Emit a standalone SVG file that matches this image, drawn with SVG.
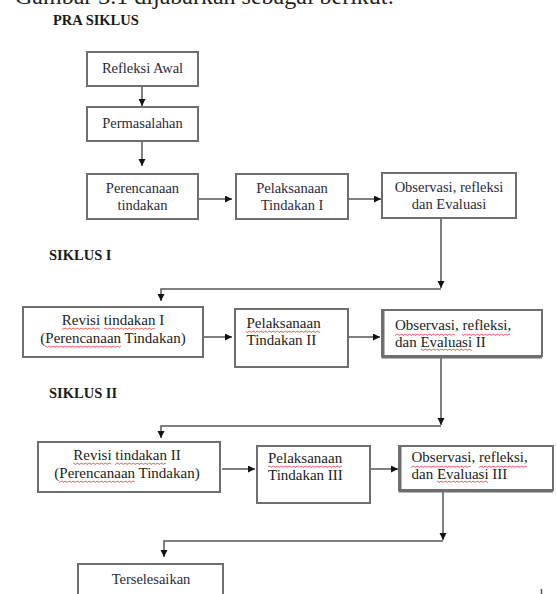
<svg xmlns="http://www.w3.org/2000/svg" width="557" height="594" viewBox="0 0 557 594">
<style>
.box{fill:#fff;stroke:#6e6e6e;stroke-width:2}
.t{font-family:"Liberation Serif","Times New Roman",serif;font-size:15px;fill:#222}
.t1{font-family:"Liberation Serif","Times New Roman",serif;font-size:14.5px;fill:#2a2a3a}
.h{font-family:"Liberation Serif","Times New Roman",serif;font-size:14.5px;font-weight:bold;fill:#1a1a1a}
.c{fill:none;stroke:#555;stroke-width:1.5}
.w{fill:url(#wave)}
</style>
<defs>
<marker id="ah" markerUnits="userSpaceOnUse" markerWidth="8" markerHeight="8" refX="7" refY="3.5" orient="auto">
<path d="M0 0 L7 3.5 L0 7 Z" fill="#111"/>
</marker>
<pattern id="wave" patternUnits="userSpaceOnUse" width="4" height="3">
<path d="M0 2.3 Q1 0.3 2 1.4 T4 2.3" fill="none" stroke="#e03a3a" stroke-width="0.8"/>
</pattern>
</defs>

<text x="15" y="4" font-family="Liberation Serif, serif" font-size="24" fill="#222">Gambar 3.1 dijabarkan sebagai berikut:</text>
<text class="h" x="53" y="25">PRA SIKLUS</text>
<text class="h" x="49" y="260">SIKLUS I</text>
<text class="h" x="49" y="398">SIKLUS II</text>

<g id="connectors">
<path class="c" d="M142 86 V106" marker-end="url(#ah)"/>
<path class="c" d="M142 141 V166" marker-end="url(#ah)"/>
<path class="c" d="M198 199 H232" marker-end="url(#ah)"/>
<path class="c" d="M348 199 H381" marker-end="url(#ah)"/>
<path class="c" d="M441 218 V288" marker-end="url(#ah)"/>
<path class="c" d="M441 289 H161 V301" marker-end="url(#ah)"/>
<path class="c" d="M203 337 H232" marker-end="url(#ah)"/>
<path class="c" d="M348 337 H380" marker-end="url(#ah)"/>
<path class="c" d="M441 357 V425" marker-end="url(#ah)"/>
<path class="c" d="M441 426 H161 V438" marker-end="url(#ah)"/>
<path class="c" d="M222 469 H255" marker-end="url(#ah)"/>
<path class="c" d="M370 469 H398" marker-end="url(#ah)"/>
<path class="c" d="M443 490 V540" marker-end="url(#ah)"/>
<path class="c" d="M443 541 H164 V557" marker-end="url(#ah)"/>
<path class="c" d="M541.5 589 V594"/>
</g>

<g id="refleksi-awal">
<rect class="box" x="87" y="52" width="111" height="34"/>
<text class="t1" x="142.5" y="73" text-anchor="middle">Refleksi Awal</text>
</g>
<g id="permasalahan">
<rect class="box" x="87" y="107" width="111" height="34"/>
<text class="t1" x="142.5" y="128" text-anchor="middle">Permasalahan</text>
</g>
<g id="perencanaan">
<rect class="box" x="87" y="174" width="111" height="45"/>
<text class="t1" x="142.5" y="193" text-anchor="middle">Perencanaan</text>
<text class="t1" x="142.5" y="210" text-anchor="middle">tindakan</text>
</g>
<g id="pelaksanaan-1">
<rect class="box" x="236" y="174" width="112" height="45"/>
<text class="t1" x="292" y="193" text-anchor="middle">Pelaksanaan</text>
<text class="t1" x="292" y="210" text-anchor="middle">Tindakan I</text>
</g>
<g id="observasi-1">
<rect class="box" x="382" y="173" width="134" height="45"/>
<text class="t1" x="449" y="192" text-anchor="middle">Observasi, refleksi</text>
<text class="t1" x="449" y="209" text-anchor="middle">dan Evaluasi</text>
</g>

<g id="revisi-1">
<rect class="box" x="23" y="307" width="180" height="50" stroke-width="2.5"/>
<text class="t" x="113" y="325" text-anchor="middle">Revisi tindakan I</text>
<text class="t" x="113" y="343" text-anchor="middle">(Perencanaan Tindakan)</text>
<rect class="w" x="62" y="327" width="38" height="3"/>
<rect class="w" x="104" y="327" width="51" height="3"/>
<rect class="w" x="45" y="345" width="76" height="3"/>
</g>
<g id="pelaksanaan-2">
<rect class="box" x="235" y="309" width="113" height="58"/>
<text class="t" x="246.5" y="328">Pelaksanaan</text>
<text class="t" x="246.5" y="345">Tindakan II</text>
<rect class="w" x="246" y="330" width="74" height="3"/>
</g>
<g id="observasi-2">
<rect class="box" x="382" y="310" width="160" height="46"/>
<path d="M383 310 V357 H542" fill="none" stroke="#6e6e6e" stroke-width="3"/>
<text class="t" x="395" y="330">Observasi, refleksi,</text>
<text class="t" x="395" y="347">dan Evaluasi II</text>
<rect class="w" x="395" y="333" width="60" height="3"/>
<rect class="w" x="462" y="333" width="48" height="3"/>
<rect class="w" x="421" y="348" width="51" height="3"/>
</g>

<g id="revisi-2">
<rect class="box" x="38" y="442" width="182" height="50" stroke-width="2.5"/>
<text class="t" x="127" y="460" text-anchor="middle">Revisi tindakan II</text>
<text class="t" x="127" y="478" text-anchor="middle">(Perencanaan Tindakan)</text>
<rect class="w" x="73" y="462" width="38" height="3"/>
<rect class="w" x="115" y="462" width="51" height="3"/>
<rect class="w" x="59" y="480" width="76" height="3"/>
</g>
<g id="pelaksanaan-3">
<rect class="box" x="257" y="446" width="113" height="57"/>
<text class="t" x="268" y="463">Pelaksanaan</text>
<text class="t" x="268" y="480">Tindakan III</text>
<rect class="w" x="268" y="465" width="74" height="3"/>
</g>
<g id="observasi-3">
<rect class="box" x="399" y="446" width="154" height="44"/>
<path d="M400 446 V491 H553" fill="none" stroke="#6e6e6e" stroke-width="3"/>
<text class="t" x="411.5" y="462">Observasi, refleksi,</text>
<text class="t" x="411.5" y="479">dan Evaluasi III</text>
<rect class="w" x="411" y="465" width="60" height="3"/>
<rect class="w" x="479" y="465" width="48" height="3"/>
<rect class="w" x="437" y="480" width="51" height="3"/>
</g>

<g id="terselesaikan">
<path class="box" d="M78 600 V564 H223 V600"/>
<text class="t1" x="151" y="584" text-anchor="middle">Terselesaikan</text>
</g>
</svg>
